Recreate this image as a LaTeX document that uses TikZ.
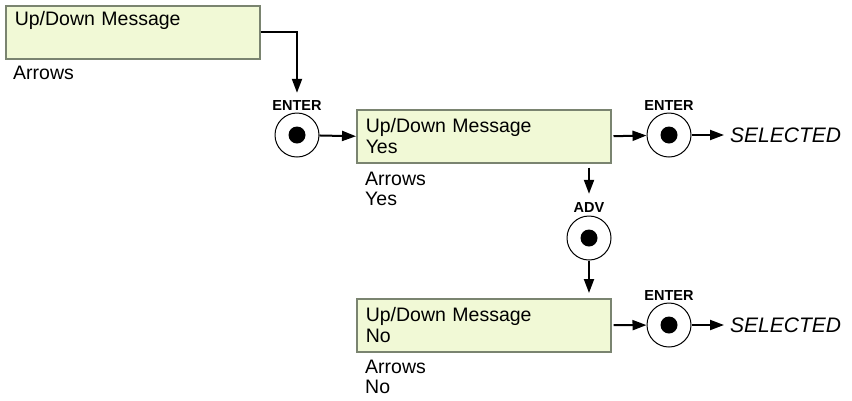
\documentclass[tikz,border=0pt]{standalone}
\usepackage{fontspec}
\setmainfont{Liberation Sans}
\usetikzlibrary{arrows.meta,calc}
\definecolor{lcdfill}{HTML}{F1F9D6}
\definecolor{lcdedge}{HTML}{7A8470}
\begin{document}
\begin{tikzpicture}[x=1pt,y=-1pt,
  lcd/.style={draw=lcdedge,line width=1.5pt,fill=lcdfill,anchor=north west,
    minimum width=254pt,minimum height=53pt,text width=236pt,align=left,
    inner xsep=8.5pt,inner ysep=0pt,font=\fontsize{19.5}{21}\selectfont},
  caption/.style={anchor=north west,align=left,inner sep=0pt,
    font=\fontsize{19.5}{20}\selectfont},
  keybtn/.style={circle,draw,line width=1pt,minimum size=44pt,inner sep=0pt,
    path picture={\fill (path picture bounding box.center) circle (8.5pt);}},
  keyname/.style={inner sep=0pt,font=\fontsize{14.5}{14.5}\selectfont\bfseries},
  result/.style={anchor=west,inner sep=0pt,font=\fontsize{21}{21}\selectfont\itshape},
  arr/.style={line width=2pt,-{Triangle[length=14pt,width=10pt]}}]
\useasboundingbox (0,0) rectangle (852,400);

% displays
\node[lcd] (d1) at (5,5) {Up/Down Message\\\strut};
\node[caption] (c1) at (13,66) {Arrows};
\node[lcd] (d2) at (356,109) {Up/Down Message\\Yes};
\node[caption] (c2) at (365,172) {Arrows\\Yes};
\node[lcd] (d3) at (356,298) {Up/Down Message\\No};
\node[caption] (c3) at (365,360) {Arrows\\No};

% keys
\node[keybtn] (k1) at (297,135) {};
\node[keyname] (n1) at (297,106) {ENTER};
\node[keybtn] (k2) at (669,135) {};
\node[keyname] (n2) at (669,106) {ENTER};
\node[keybtn] (k3) at (589,238) {};
\node[keyname] (n3) at (589,208) {ADV};
\node[keybtn] (k4) at (669,325) {};
\node[keyname] (n4) at (669,296) {ENTER};

% outcomes
\node[result] (s1) at (730,135) {SELECTED};
\node[result] (s2) at (730,325) {SELECTED};

% flow
\coordinate (t1) at ($(n1.north)+(0,-8)$);
\draw[arr] (d1.east) -| (t1);
\draw[arr] (k1) -- (d2.west);
\draw[arr,shorten <=2pt] (d2.east) -- (k2);
\draw[arr,shorten >=6pt] (k2) -- (s1.west);
\coordinate (b2) at (d2.south -| k3);
\coordinate (t3) at ($(n3.north)+(0,-9)$);
\draw[arr,shorten <=4pt] (b2) -- (t3);
\coordinate (t4) at (d3.north -| k3);
\draw[arr,shorten >=5pt] (k3) -- (t4);
\draw[arr,shorten <=2pt] (d3.east) -- (k4);
\draw[arr,shorten >=6pt] (k4) -- (s2.west);
\end{tikzpicture}
\end{document}
